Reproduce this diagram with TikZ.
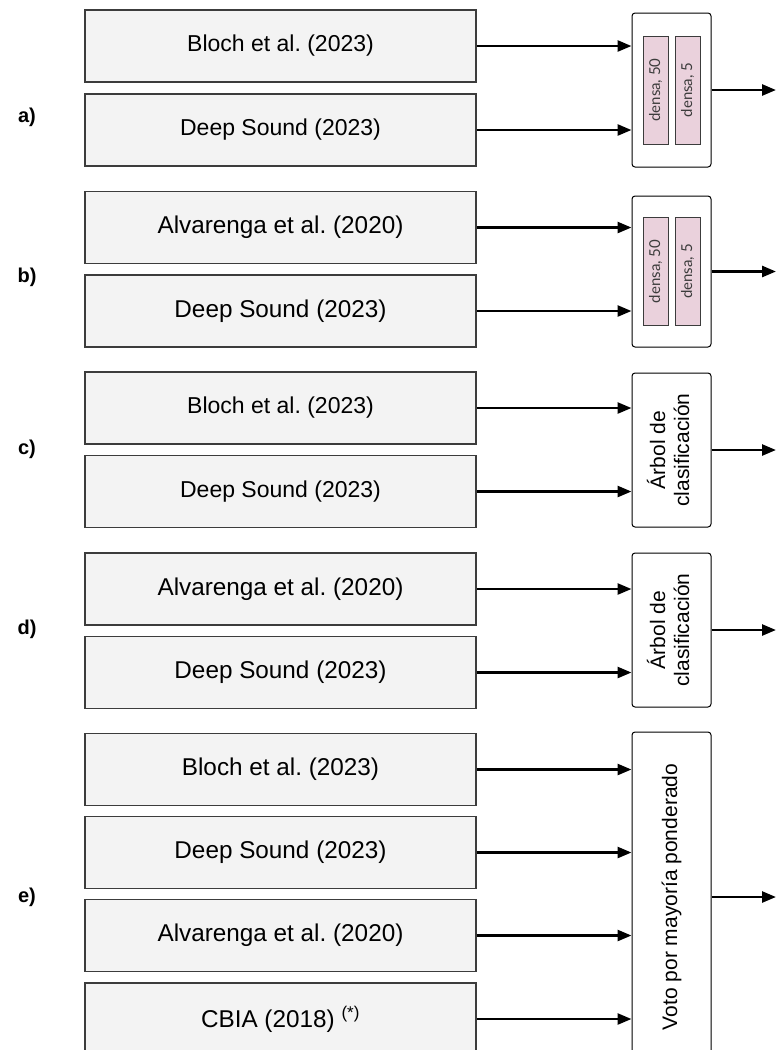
\documentclass[tikz,border=0pt]{standalone}
\usepackage{fontspec}
\setmainfont{Liberation Sans}
\newfontfamily\densafont{Lato}
\usetikzlibrary{arrows.meta}
\definecolor{boxgrey}{RGB}{243,243,243}
\definecolor{edgegrey}{RGB}{60,60,60}
\definecolor{densapink}{RGB}{234,209,220}
\frenchspacing

\tikzset{
  src/.style={draw=edgegrey, line width=1.4pt, fill=boxgrey, minimum width=391pt,
    minimum height=72pt, inner sep=0pt, font=\fontsize{24.3}{28}\selectfont},
  srcsmall/.style={src, font=\fontsize{23}{27}\selectfont},
  fuse/.style={draw=black, line width=1pt, fill=white, rounded corners=3pt,
    minimum width=79pt, inner sep=0pt, font=\fontsize{21}{24}\selectfont},
  densa/.style={draw=edgegrey, line width=0.8pt, fill=densapink, minimum width=25pt,
    minimum height=108pt, inner sep=0pt, text=edgegrey, font=\densafont\fontsize{15}{17}\selectfont},
  tag/.style={font=\bfseries\fontsize{20}{22}\selectfont},
  flow/.style={line width=2.6pt, -{Triangle[length=14pt,width=11pt]}}
}

\begin{document}
\begin{tikzpicture}[x=1pt, y=-1pt]
    \useasboundingbox (0,0) rectangle (776,1050);
    \coordinate (outx) at (776,0);

    % a) two models into a dense net
    \node[tag] (la) at (27,117) {a)};
    \node[srcsmall] (a1) at (280.5,46) {Bloch et al. (2023)};
    \node[srcsmall] (a2) at (280.5,130) {Deep Sound (2023)};
    \node[fuse, minimum height=154pt] (fa) at (671.5,90) {};
    \node[densa] (fa50) at (655.5,90) {\rotatebox{90}{densa, 50}};
    \node[densa] (fa5) at (687.5,90) {\rotatebox{90}{densa, 5}};
    \draw[flow] (a1.east) -- (a1.east -| fa.west);
    \draw[flow] (a2.east) -- (a2.east -| fa.west);
    \draw[flow] (fa.east) -- (fa.east -| outx);

    % b)
    \node[tag] (lb) at (27,277) {b)};
    \node[src] (b1) at (280.5,227.5) {Alvarenga et al. (2020)};
    \node[src] (b2) at (280.5,311) {Deep Sound (2023)};
    \node[fuse, minimum height=151pt] (fb) at (671.5,271.5) {};
    \node[densa] (fb50) at (655.5,271.5) {\rotatebox{90}{densa, 50}};
    \node[densa] (fb5) at (687.5,271.5) {\rotatebox{90}{densa, 5}};
    \draw[flow] (b1.east) -- (b1.east -| fb.west);
    \draw[flow] (b2.east) -- (b2.east -| fb.west);
    \draw[flow] (fb.east) -- (fb.east -| outx);

    % c) classification tree
    \node[tag] (lc) at (27,449) {c)};
    \node[srcsmall] (c1) at (280.5,408) {Bloch et al. (2023)};
    \node[srcsmall] (c2) at (280.5,491.5) {Deep Sound (2023)};
    \node[fuse, minimum height=154pt] (fc) at (671.5,450)
        {\rotatebox{90}{\begin{tabular}{@{}c@{}}Árbol de\\clasificación\end{tabular}}};
    \draw[flow] (c1.east) -- (c1.east -| fc.west);
    \draw[flow] (c2.east) -- (c2.east -| fc.west);
    \draw[flow] (fc.east) -- (fc.east -| outx);

    % d)
    \node[tag] (ld) at (27,629) {d)};
    \node[src] (d1) at (280.5,589) {Alvarenga et al. (2020)};
    \node[src] (d2) at (280.5,672.5) {Deep Sound (2023)};
    \node[fuse, minimum height=154pt] (fd) at (671.5,630)
        {\rotatebox{90}{\begin{tabular}{@{}c@{}}Árbol de\\clasificación\end{tabular}}};
    \draw[flow] (d1.east) -- (d1.east -| fd.west);
    \draw[flow] (d2.east) -- (d2.east -| fd.west);
    \draw[flow] (fd.east) -- (fd.east -| outx);

    % e) weighted vote over four models
    \node[tag] (le) at (27,897) {e)};
    \node[src] (e1) at (280.5,769.5) {Bloch et al. (2023)};
    \node[src] (e2) at (280.5,852.5) {Deep Sound (2023)};
    \node[src] (e3) at (280.5,935.5) {Alvarenga et al. (2020)};
    \node[src] (e4) at (280.5,1019) {CBIA (2018) \textsuperscript{(*)}};
    \node[fuse, minimum height=330pt] (fe) at (671.5,897)
        {\rotatebox{90}{Voto por mayoría ponderado}};
    \foreach \s in {e1,e2,e3,e4}
        \draw[flow] (\s.east) -- (\s.east -| fe.west);
    \draw[flow] (fe.east) -- (fe.east -| outx);
\end{tikzpicture}
\end{document}
